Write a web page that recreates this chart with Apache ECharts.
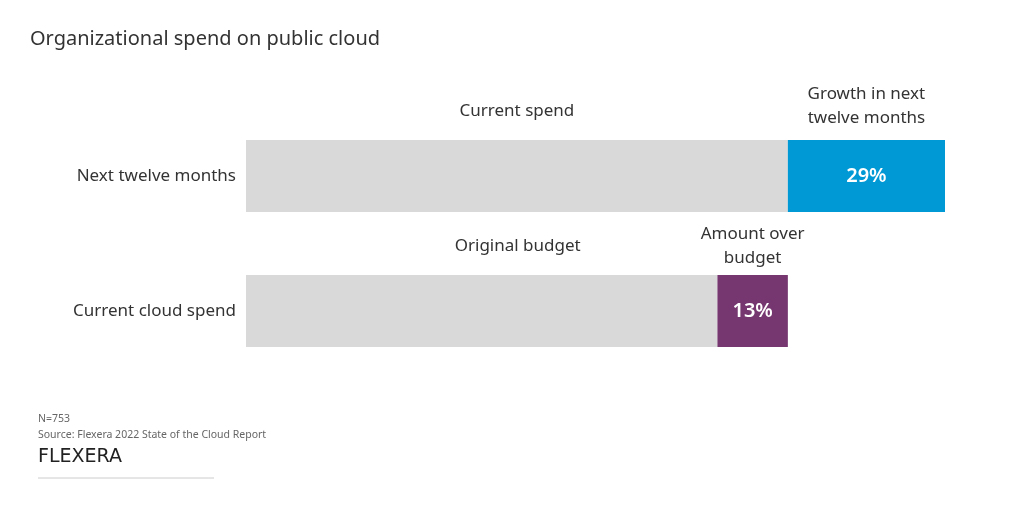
<!DOCTYPE html>
<html><head><meta charset="utf-8">
<script src="https://cdn.jsdelivr.net/npm/echarts@6/dist/echarts.min.js"></script>
<style>html,body{margin:0;padding:0;background:#fff}#c{width:1024px;height:512px}</style>
</head><body><div id="c"></div>
<script>
const categories = ["Current cloud spend", "Next twelve months"];
const baseValues = [87, 100];
const extraValues = [13, 29];
const baseNotes = ["Original budget", "Current spend"];
const extraNotes = ["Amount over\nbudget", "Growth in next\ntwelve months"];
const extraLabels = ["13%", "29%"];
const extraColors = ["#763770", "#0099d5"];
const baseColor = "#d9d9d9";
const FONT = "'Noto Sans', sans-serif";

const chart = echarts.init(document.getElementById('c'), null, {renderer: 'canvas'});

const noteStyle = {show: true, position: 'top', color: '#333', fontFamily: FONT, fontSize: 17, lineHeight: 24};

chart.setOption({
  animation: false,
  title: [
    {text: 'Organizational spend on public cloud', left: 25, top: 24,
     textStyle: {fontFamily: FONT, fontSize: 20, fontWeight: 'normal', color: '#333'}},
    {text: 'N=753\nSource: Flexera 2022 State of the Cloud Report', left: 33, top: 406,
     textStyle: {fontFamily: FONT, fontSize: 10.5, fontWeight: 'normal', color: '#666', lineHeight: 16}},
    {text: 'FLEXERA', left: 33, top: 443,
     textStyle: {fontFamily: "'DejaVu Sans', sans-serif", fontSize: 19, fontWeight: 'normal', color: '#222'}}
  ],
  graphic: [{type: 'line', shape: {x1: 38, y1: 478, x2: 214, y2: 478}, style: {stroke: '#cccccc', lineWidth: 1}}],
  grid: {left: 246, right: 79, top: 108.5, bottom: 133.5},
  xAxis: {type: 'value', min: 0, max: 129, show: false},
  yAxis: [{
    type: 'category', data: categories,
    axisLine: {show: false}, axisTick: {show: false},
    axisLabel: {color: '#333', fontFamily: FONT, fontSize: 17, margin: 10}
  }],
  series: [
    {type: 'bar', stack: 's', barWidth: 72, barGap: '-100%',
     data: baseValues.map((v, i) => ({value: v, label: i === 0 ? {offset: [36, -5]} : {offset: [0, -5]}})),
     itemStyle: {color: baseColor},
     label: Object.assign({}, noteStyle, {distance: 12, formatter: p => baseNotes[p.dataIndex]})},
    {type: 'bar', stack: 's', barWidth: 72,
     data: extraValues.map((v, i) => ({value: v, itemStyle: {color: extraColors[i]},
                                        label: {offset: i === 0 ? [0, 3] : [0, -2]}})),
     label: Object.assign({}, noteStyle, {distance: 8, formatter: p => extraNotes[p.dataIndex]})},
    {type: 'bar', stack: 'o', barWidth: 72, silent: true,
     data: baseValues, itemStyle: {color: 'rgba(0,0,0,0)'}, label: {show: false}},
    {type: 'bar', stack: 'o', barWidth: 72, silent: true,
     data: extraValues, itemStyle: {color: 'rgba(0,0,0,0)'},
     label: {show: true, position: 'inside', color: '#fff', fontFamily: FONT, fontSize: 20, fontWeight: 600,
             formatter: p => extraLabels[p.dataIndex]}}
  ]
});
</script></body></html>
